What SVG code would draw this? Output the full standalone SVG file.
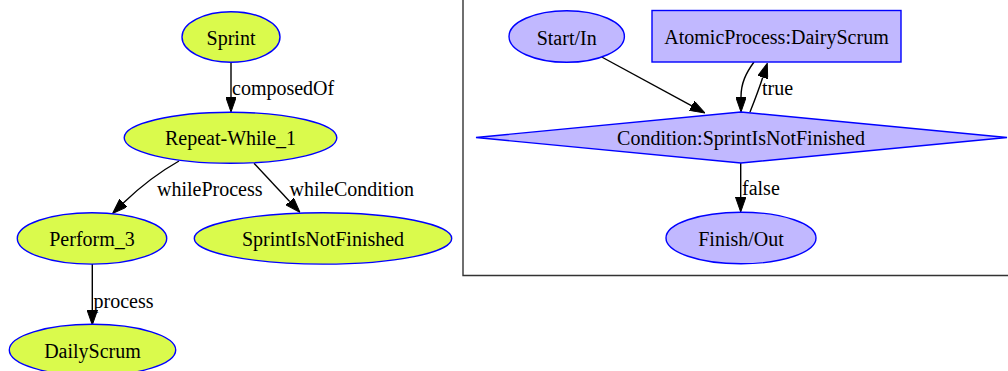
<svg xmlns="http://www.w3.org/2000/svg" width="1008" height="371" viewBox="0 0 1008 371">
<style>
text{font-family:'Liberation Serif','Times New Roman',Times,'DejaVu Serif',serif;font-size:20px;fill:#000}
.c{text-anchor:middle}
.y{fill:#dafa4c;stroke:#0000ff;stroke-width:1.4}
.p{fill:#c1b8ff;stroke:#0000ff;stroke-width:1.4}
.e{fill:none;stroke:#000;stroke-width:1.4;marker-end:url(#ah)}
</style>
<defs>
<marker id="ah" markerUnits="userSpaceOnUse" viewBox="0 0 15 10.5" markerWidth="15" markerHeight="10.5" refX="0" refY="5.25" orient="auto">
<path d="M0,0 L15,5.25 L0,10.5 z" fill="#000" stroke="#000" stroke-width="1"/>
</marker>
</defs>
<rect width="1008" height="371" fill="#fff"/>
<path d="M463,-2 L463,275.5 L1010,275.5" fill="none" stroke="#333" stroke-width="1.4"/>
<g id="connectors">
<path class="e" d="M231,62.5 L231,97"/>
<text x="232" y="94.5">composedOf</text>
<path class="e" d="M179,161 C163,170 145,182 123.3,203.1"/>
<text x="157" y="195.5">whileProcess</text>
<path class="e" d="M254,163.3 L289.7,201.4"/>
<text x="289.5" y="195.5">whileCondition</text>
<path class="e" d="M92.3,264 L92.3,310"/>
<text x="93.5" y="307.5">process</text>
<path class="e" d="M601.7,57 L691.8,105.8"/>
<path class="e" d="M754,62 C746,73 741,83 741,97"/>
<path class="e" d="M750,112 C754,102 759,89 762.7,77.5"/>
<text x="762" y="94.5">true</text>
<path class="e" d="M740.7,163 L740.7,197"/>
<text x="742" y="195">false</text>
</g>
<g id="sprint"><ellipse class="y" cx="231" cy="37" rx="49" ry="25.3"/><text class="c" x="231" y="44.5">Sprint</text></g>
<g id="repeat-while-1"><ellipse class="y" cx="230.5" cy="137.8" rx="106.3" ry="25.5"/><text class="c" x="230.5" y="145.3">Repeat-While_1</text></g>
<g id="perform-3"><ellipse class="y" cx="92" cy="238.4" rx="74.7" ry="25.7"/><text class="c" x="92" y="246">Perform_3</text></g>
<g id="sprint-is-not-finished"><ellipse class="y" cx="323" cy="238.4" rx="128.7" ry="25.7"/><text class="c" x="323" y="246">SprintIsNotFinished</text></g>
<g id="daily-scrum"><ellipse class="y" cx="92.5" cy="350" rx="83.2" ry="25.7"/><text class="c" x="92.5" y="358">DailyScrum</text></g>
<g id="start-in"><ellipse class="p" cx="566.7" cy="36.5" rx="57.7" ry="25.8"/><text class="c" x="566.7" y="44.5">Start/In</text></g>
<g id="atomic-process"><rect class="p" x="652" y="10.5" width="249" height="51.5"/><text class="c" x="776.5" y="44">AtomicProcess:DairyScrum</text></g>
<g id="condition"><polygon class="p" points="741,112 1007,137.5 741,163 476,137.5"/><text class="c" x="741" y="145">Condition:SprintIsNotFinished</text></g>
<g id="finish-out"><ellipse class="p" cx="741" cy="238" rx="75" ry="25.8"/><text class="c" x="741" y="245.5">Finish/Out</text></g>
</svg>
